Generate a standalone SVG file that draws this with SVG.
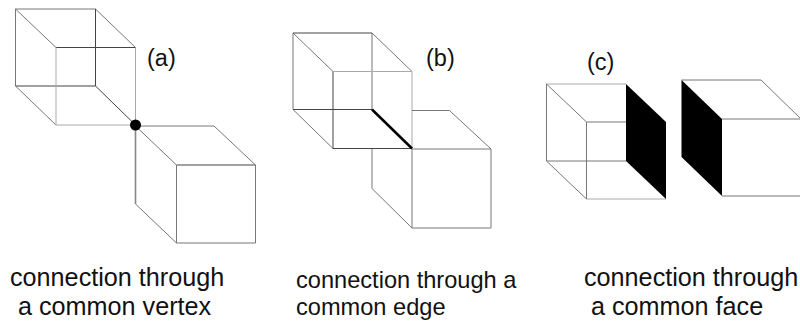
<svg xmlns="http://www.w3.org/2000/svg" width="800" height="322" viewBox="0 0 800 322">
<style>
.e{fill:none;stroke:#777;stroke-width:1}
.l{stroke:#aaa}
.d{stroke:#444}
.k{fill:#000;stroke:none}
text{font-family:"Liberation Sans",Arial,sans-serif;font-size:25.200px;fill:#111}
.s{font-size:23.600px}
.m{font-size:23.500px}
</style>
<rect width="800" height="322" fill="#fff"/>
<g id="connectors">
<path class="e" d="M15.5 9H95.5L135.5 47.5M15.5 9L56 47.5M15.5 9V86L56 125"/>
<path class="e d" d="M95.5 9V86M15.5 86H95.5L135.5 125M56 47.5H135.5"/>
<path class="e l" d="M135.5 47.5V125H56V47.5"/>
<path class="e" d="M135.5 126H214L255.5 165M135.5 126L176.5 165"/>
<path class="e d" d="M176.5 165H255.5"/>
<path class="e" style="stroke-width:1.6;stroke:#888" d="M135.5 126V204"/>
<path class="e" d="M135.5 204L176.5 243H255.5V165M176.5 165V243"/>
<path class="e" d="M293 33L333 71.5M293 33V109.5L333 148.5M372 33V109.5M372 33L412 71.5"/>
<path class="e d" d="M293 33H372M293 109.5H372M333 71.5V148.5H412"/>
<path class="e l" d="M333 71.5H412V148.5"/>
<path class="e" d="M412 110.500H449.500L491 149M412 149H491V228H412V149M372 149V188.500L412 228"/>
<path fill="none" stroke="#000" stroke-width="2.500" d="M372 109.500L412 148.500"/>
<path class="e" d="M546.500 84V161L586.500 199M546.500 84L586.500 122V199M586.500 122H626M546.500 161H626"/>
<path class="e l" d="M546.500 84H626M586.500 199H666"/>
<path class="e" d="M681.500 80H761L800 118M722 119H800M722 196H800"/>
</g>
<g id="node-a"><circle cx="135.500" cy="125" r="5.500"/><text class="m" x="147" y="66">(a)</text><text x="10" y="286">connection through</text><text x="18" y="315">a common vertex</text></g>
<g id="node-b"><text class="m" x="426" y="66">(b)</text><text class="s" x="296" y="288">connection through a</text><text class="s" x="296" y="315">common edge</text></g>
<g id="node-c"><polygon class="k" points="626,84 666,122 666,199 626,161"/><polygon class="k" points="681.500,80 722,119 722,196 681.500,157"/><text class="m" x="587" y="70">(c)</text><text x="584" y="286">connection through</text><text x="591" y="315">a common face</text></g>
</svg>
